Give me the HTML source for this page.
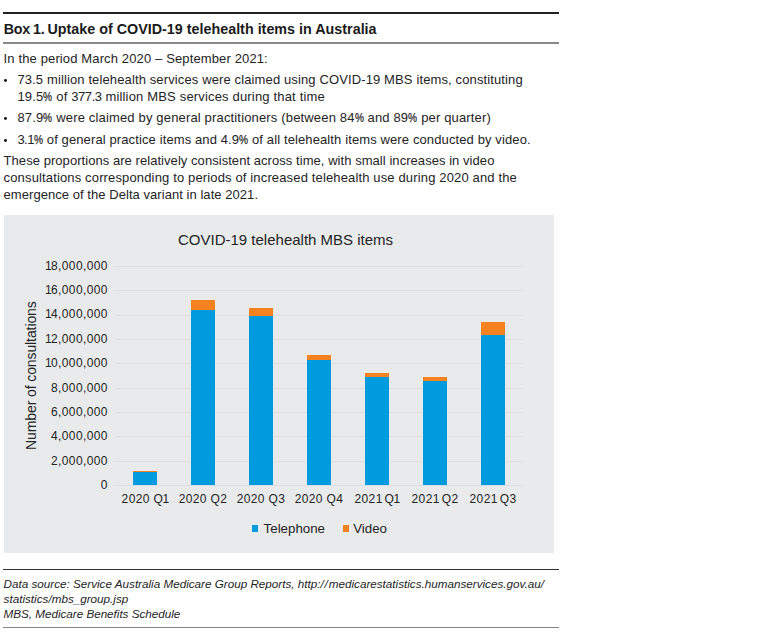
<!DOCTYPE html>
<html><head><meta charset="utf-8">
<style>
html,body{margin:0;padding:0;background:#fff;}
body{width:760px;height:644px;position:relative;overflow:hidden;font-family:"Liberation Sans",sans-serif;color:#242424;}
.ln{position:absolute;white-space:nowrap;line-height:1;transform-origin:0 0;}
.t{font-size:13px;}
.rule{position:absolute;left:3px;width:556px;}
.bul{position:absolute;left:4.2px;width:2.8px;height:2.8px;border-radius:50%;background:#1a1a1a;}
.chart{position:absolute;left:3.6px;top:214.6px;width:550.2px;height:338px;background:#e9eaec;}
.grid{position:absolute;left:116px;width:406.2px;height:1px;background:#dcdde0;}
.n1{letter-spacing:-0.7px;}
.n2{letter-spacing:-1.4px;}
.xt .n1{margin-left:-0.8px;}
.yt{position:absolute;right:652.2px;letter-spacing:0.38px;font-size:12px;line-height:1;white-space:nowrap;text-align:right;}
.xt{position:absolute;letter-spacing:0.38px;font-size:12px;line-height:1;white-space:nowrap;width:58px;text-align:center;top:493px;}
.bar{position:absolute;width:23.8px;}
.b{background:#009ade;}
.o{background:#f5821f;}
.pc{display:inline-block;-webkit-text-stroke:0.25px #242424;transform:scaleX(.78);transform-origin:0 50%;margin-right:-2.6px;}
.f{font-size:11.7px;font-style:italic;}
</style></head><body>
<div class="rule" style="top:12px;height:2px;background:#222;"></div>
<div class="ln" id="title" style="left:3.7px;top:21.7px;font-size:14.3px;font-weight:bold;color:#1a1a1a;letter-spacing:0.016px;"><span style="letter-spacing:-0.25px;word-spacing:-0.7px">Box 1. </span>Uptake of COVID-19 telehealth items in Australia</div>
<div class="rule" style="top:42px;height:2px;background:#8a8a8a;"></div>

<div class="ln t" id="l1" style="left:3.6px;letter-spacing:0.132px;top:52px;">In the period March 2020 – September 2021:</div>
<div class="bul" style="top:78.9px;"></div>
<div class="ln t" id="l2" style="left:17.4px;letter-spacing:0.125px;top:73px;">73.5 million telehealth services were claimed using COVID-19 MBS items, constituting</div>
<div class="ln t" id="l3" style="left:17.4px;letter-spacing:0.174px;top:90px;">19.5<span class="pc">%</span> of <span style="letter-spacing:-0.45px">377.3</span> million MBS services during that time</div>
<div class="bul" style="top:117.1px;"></div>
<div class="ln t" id="l4" style="left:17.4px;letter-spacing:0.16px;top:111px;">87.9<span class="pc">%</span> were claimed by general practitioners (between 84<span class="pc">%</span> and 89<span class="pc">%</span> per quarter)</div>
<div class="bul" style="top:139px;"></div>
<div class="ln t" id="l5" style="left:17.4px;letter-spacing:0.115px;top:133px;"><span style="letter-spacing:-0.5px">3.1</span><span class="pc">%</span> of general practice items and 4.9<span class="pc">%</span> of all telehealth items were conducted by video.</div>
<div class="ln t" id="l6" style="left:3.6px;letter-spacing:0.053px;top:154px;">These proportions are relatively consistent across time, with small increases in video</div>
<div class="ln t" id="l7" style="left:3.6px;letter-spacing:0.145px;top:171px;">consultations corresponding to periods of increased telehealth use during 2020 and the</div>
<div class="ln t" id="l8" style="left:3.6px;letter-spacing:0.051px;top:188px;">emergence of the Delta variant in late 2021.</div>

<div class="chart"></div>
<div class="ln" id="ctitle" style="left:178px;top:232px;font-size:15px;">COVID-19 telehealth MBS items</div>

<div class="grid" style="top:266.0px;"></div>
<div class="grid" style="top:290.3px;"></div>
<div class="grid" style="top:314.6px;"></div>
<div class="grid" style="top:339.0px;"></div>
<div class="grid" style="top:363.3px;"></div>
<div class="grid" style="top:387.6px;"></div>
<div class="grid" style="top:412.0px;"></div>
<div class="grid" style="top:436.3px;"></div>
<div class="grid" style="top:460.6px;"></div>
<div class="grid" style="top:485.0px;"></div>

<div class="yt" style="top:260px;"><span class="n1">1</span>8,000,000</div>
<div class="yt" style="top:284px;"><span class="n1">1</span>6,000,000</div>
<div class="yt" style="top:308px;"><span class="n1">1</span>4,000,000</div>
<div class="yt" style="top:333px;"><span class="n1">1</span>2,000,000</div>
<div class="yt" style="top:357px;"><span class="n1">1</span>0,000,000</div>
<div class="yt" style="top:382px;">8,000,000</div>
<div class="yt" style="top:406px;">6,000,000</div>
<div class="yt" style="top:430px;">4,000,000</div>
<div class="yt" style="top:455px;">2,000,000</div>
<div class="yt" style="top:479px;">0</div>

<div class="ln" id="ylab" style="left:23.75px;top:450px;font-size:14px;letter-spacing:-0.1px;transform:rotate(-90deg);">Number of consultations</div>

<div class="bar" style="left:133.1px;top:470.8px;height:14.2px;background:linear-gradient(#f5821f 0,#f5821f 1.2px,#009ade 1.2px);"></div>
<div class="bar" style="left:191.1px;top:300.0px;height:185.0px;background:linear-gradient(#f5821f 0,#f5821f 9.65px,#009ade 9.65px);"></div>
<div class="bar" style="left:249.2px;top:308.3px;height:176.7px;background:linear-gradient(#f5821f 0,#f5821f 7.9px,#009ade 7.9px);"></div>
<div class="bar" style="left:307.2px;top:355.1px;height:129.9px;background:linear-gradient(#f5821f 0,#f5821f 5.5px,#009ade 5.5px);"></div>
<div class="bar" style="left:365.2px;top:372.8px;height:112.2px;background:linear-gradient(#f5821f 0,#f5821f 3.9px,#009ade 3.9px);"></div>
<div class="bar" style="left:423.2px;top:376.6px;height:108.4px;background:linear-gradient(#f5821f 0,#f5821f 3.9px,#009ade 3.9px);"></div>
<div class="bar" style="left:481.3px;top:321.8px;height:163.2px;background:linear-gradient(#f5821f 0,#f5821f 13.0px,#009ade 13.0px);"></div>

<div class="xt" style="left:116px;">2020 Q<span class="n1">1</span></div>
<div class="xt" style="left:174px;">2020 Q2</div>
<div class="xt" style="left:232px;">2020 Q3</div>
<div class="xt" style="left:290px;">2020 Q4</div>
<div class="xt" style="left:348px;">202<span class="n2">1</span> Q<span class="n1">1</span></div>
<div class="xt" style="left:406px;">202<span class="n2">1</span> Q2</div>
<div class="xt" style="left:464px;">202<span class="n2">1</span> Q3</div>

<div class="bar b" style="left:251.9px;top:525.3px;width:6.4px;height:6.4px;"></div>
<div class="ln" id="lg1" style="left:263.6px;top:521.9px;font-size:13.3px;">Telephone</div>
<div class="bar o" style="left:342.5px;top:525.3px;width:6.4px;height:6.4px;"></div>
<div class="ln" id="lg2" style="left:353.2px;top:521.9px;font-size:13.3px;">Video</div>

<div class="rule" style="top:568.6px;height:1.3px;background:#333;"></div>
<div class="ln f" id="f1" style="left:3.6px;top:577.5px;letter-spacing:-0.006px;">Data source: Service Australia Medicare Group Reports, http:<span style="letter-spacing:0.9px">//</span>medicarestatistics.humanservices.gov.au/</div>
<div class="ln f" id="f2" style="left:3.6px;top:592.6px;">statistics/mbs_group.jsp</div>
<div class="ln f" id="f3" style="left:3.6px;top:607.6px;letter-spacing:-0.024px;">MBS, Medicare Benefits Schedule</div>
<div class="rule" style="top:626.6px;height:1.6px;background:#858585;"></div>
</body></html>
